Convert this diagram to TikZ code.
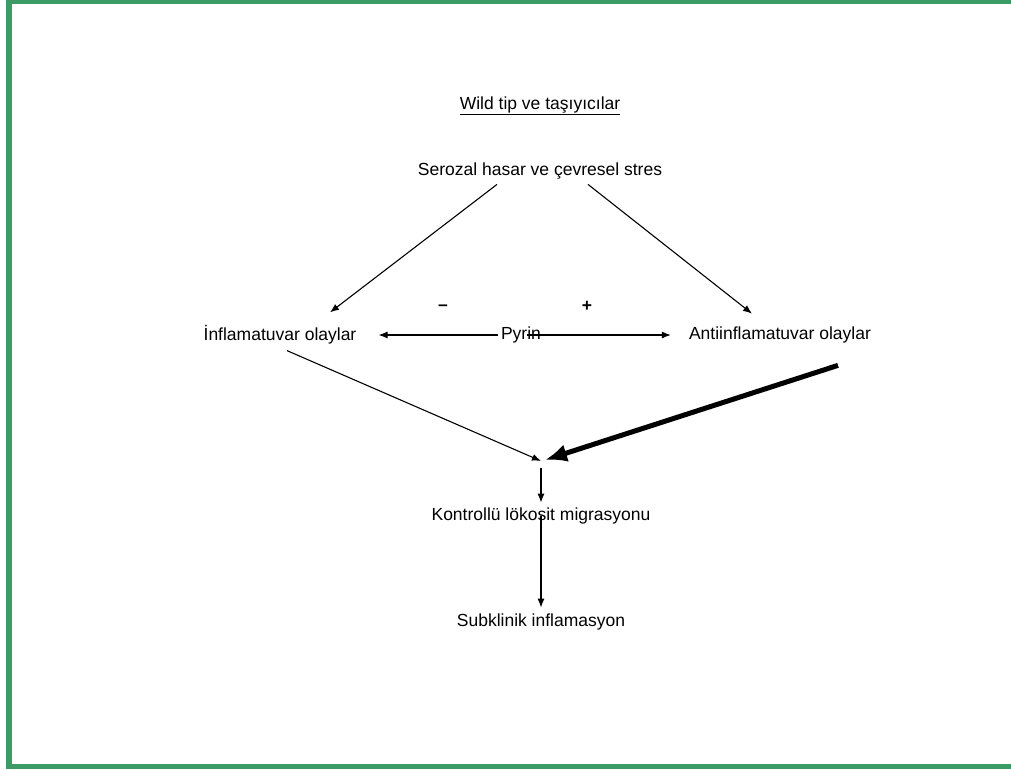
\documentclass[tikz,border=0pt]{standalone}
\usepackage{fontspec}
\setmainfont{Liberation Sans}
\usepackage{tikz}
\usetikzlibrary{arrows.meta,positioning,calc}
\usepackage{xcolor}
\definecolor{frame}{RGB}{58,155,100}

\begin{document}
\begin{tikzpicture}[x=1pt, y=-1pt,
    lbl/.style={font=\fontsize{17.5}{21}\selectfont, inner sep=0pt},
    arr/.style={-{Latex[length=9, width=7]}, line width=1.1pt},
    bigarr/.style={-{Latex[length=22, width=18]}, line width=5pt}]
        \useasboundingbox (0,0) rectangle (1011,769);

        % Frame
        \fill[frame] (6,0) rectangle (1011,4);
        \fill[frame] (6,0) rectangle (12,769);
        \fill[frame] (6,764) rectangle (1011,769);

        % Labels
        \node[lbl] (title) at (540,106) {\underline{Wild tip ve taşıyıcılar}};
        \node[lbl] (serozal) at (540,171) {Serozal hasar ve çevresel stres};
        \node[lbl] (infl) at (280,335) {İnflamatuvar olaylar};
        \node[lbl] (pyrin) at (521,335) {Pyrin};
        \node[lbl] (anti) at (780,335) {Antiinflamatuvar olaylar};
        \node[lbl, font=\fontsize{17.5}{21}\selectfont\bfseries] (minus) at (443,308) {–};
        \node[lbl, font=\fontsize{17.5}{21}\selectfont\bfseries] (plus) at (587,306) {+};
        \coordinate (meet) at (541,461);
        \node[lbl] (kontrol) at (541,516) {Kontrollü lökosit migrasyonu};
        \node[lbl] (subk) at (541,622) {Subklinik inflamasyon};

        % Stress to both sides
        \draw[arr] ($(serozal.south)+(-43,5)$) -- ($(infl.north)+(50,-13)$);
        \draw[arr] ($(serozal.south)+(48,5)$) -- ($(anti.north)+(-28,-13)$);

        % Pyrin
        \draw[arr] ($(pyrin.west)+(-3,0)$) -- ($(infl.east)+(22,0)$);
        \draw[arr] ($(pyrin.center)+(6,0)$) -- ($(anti.west)+(-18,0)$);

        % Towards migration
        \draw[arr] ($(infl.south)+(7,6)$) -- (meet);
        \draw[bigarr] ($(anti.south)+(58,22)$) -- ($(meet)+(4,-1)$);
        \draw[arr] ($(meet)+(0,7)$) -- ($(kontrol.north)+(0,-5)$);
        \draw[arr] (kontrol.center) -- ($(subk.north)+(0,-6)$);
\end{tikzpicture}
\end{document}
